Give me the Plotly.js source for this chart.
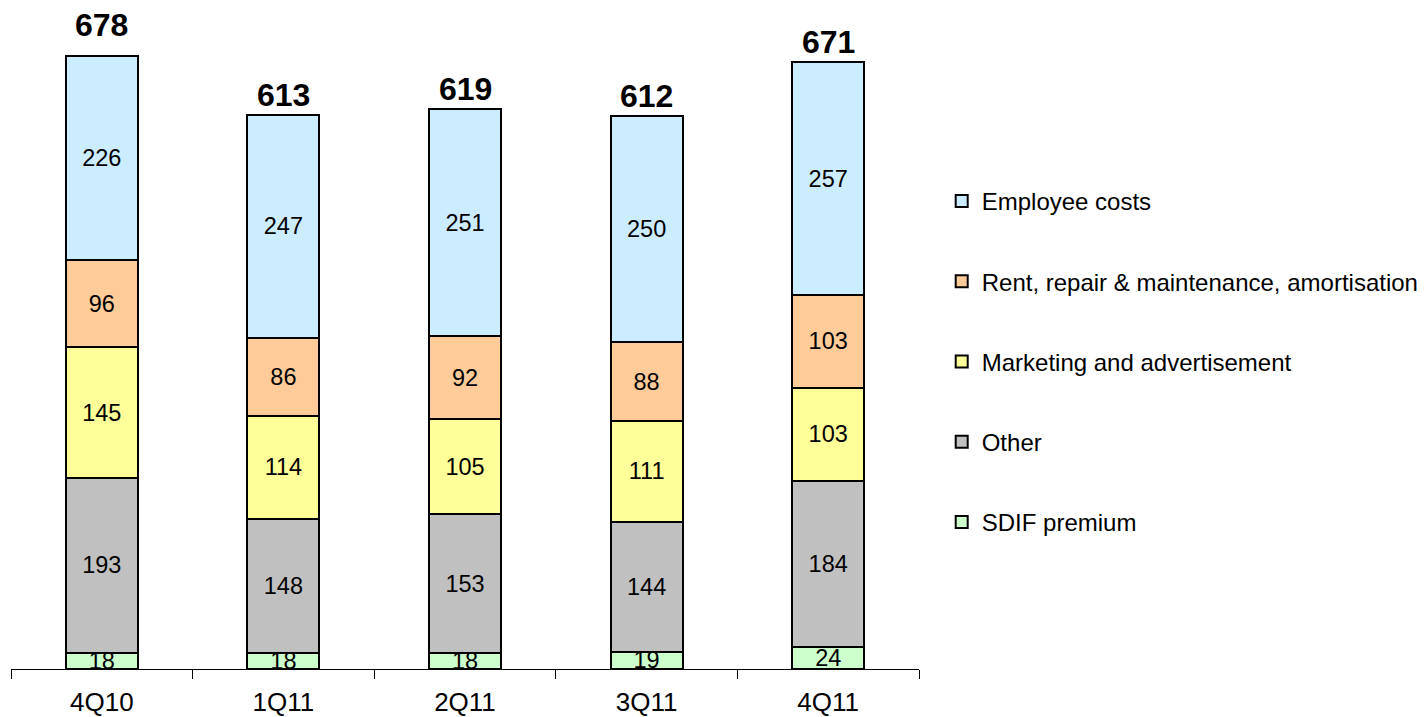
<!DOCTYPE html>
<html><head><meta charset="utf-8">
<script src="https://cdn.plot.ly/plotly-3.0.1.min.js"></script>
<style>body{margin:0;background:#fff}#chart{width:1424px;height:717px}</style>
</head><body><div id="chart"></div>
<script>
const categories = ["4Q10", "1Q11", "2Q11", "3Q11", "4Q11"];
const sdif = [18, 18, 18, 19, 24];
const other = [193, 148, 153, 144, 184];
const marketing = [145, 114, 105, 111, 103];
const rent = [96, 86, 92, 88, 103];
const employee = [226, 247, 251, 250, 257];
const seriesNames = ["SDIF premium", "Other", "Marketing and advertisement", "Rent, repair & maintenance, amortisation", "Employee costs"];
const seriesColors = ["#CCFFCC", "#C0C0C0", "#FFFF99", "#FFCC99", "#CCECFF"];
const seriesValues = [sdif, other, marketing, rent, employee];
const totals = categories.map((c, i) => seriesValues.reduce((s, v) => s + v[i], 0));

const FONT = "Liberation Sans, Arial, sans-serif";
const traces = seriesValues.map((vals, k) => ({
  type: "bar", x: categories, y: vals, name: seriesNames[k],
  legendgroup: "g" + k, legendrank: 5 - k,
  marker: {color: seriesColors[k], line: {color: "#000", width: 2}},
  width: 0.396,
  text: vals.map(String), texttemplate: "%{text}",
  textposition: "inside", insidetextanchor: "middle", textangle: 0,
  constraintext: "none",
  textfont: {family: FONT, size: 23.5, color: "#000"},
  hoverinfo: "x+y+name"
}));

const maxTotal = Math.max(...totals);
const annotations = categories.map((c, i) => ({
  x: c, y: totals[i], xref: "x", yref: "y", text: "<b>" + totals[i] + "</b>",
  showarrow: false, yanchor: "bottom", yshift: totals[i] === maxTotal ? 11 : 0,
  font: {family: FONT, size: 32, color: "#000"}
}));

const layout = {
  width: 1424, height: 717,
  margin: {l: 11, r: 503, t: 0, b: 48},
  paper_bgcolor: "#fff", plot_bgcolor: "#fff",
  barmode: "stack",
  showlegend: true,
  legend: {x: 1.025, xanchor: "left", xref: "paper", y: 0.7324, yanchor: "top",
    traceorder: "grouped", tracegroupgap: 46,
    font: {family: FONT, size: 24, color: "#000"}, bgcolor: "rgba(0,0,0,0)"},
  xaxis: {type: "category", showline: true, linecolor: "#000", linewidth: 1,
    ticks: "outside", tickson: "boundaries", ticklen: 9, tickcolor: "#000", tickwidth: 1,
    ticklabelstandoff: 10,
    tickfont: {family: FONT, size: 26, color: "#000"}, showgrid: false, zeroline: false,
    range: [-0.5, 4.5]},
  yaxis: {visible: false, range: [0, 740], showgrid: false, zeroline: false},
  annotations: annotations
};
Plotly.newPlot("chart", traces, layout, {displayModeBar: false, staticPlot: true});
</script></body></html>
